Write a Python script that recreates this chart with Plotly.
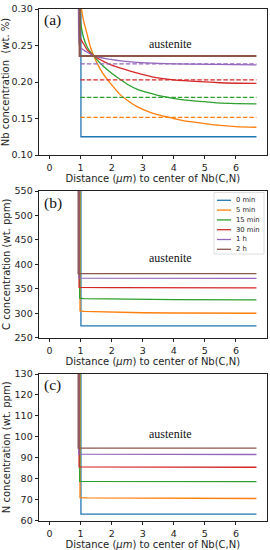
import plotly.graph_objects as go

names = ["0 min", "5 min", "15 min", "30 min", "1 h", "2 h"]
colors = ["#1f77b4", "#ff7f0e", "#2ca02c", "#d62728", "#9467bd", "#8c564b"]

# Panel (a): Nb concentration (wt. %)
nb_x = [
    [1.01, 1.01, 6.66],
    [1.0, 1.03, 1.1, 1.2, 1.3, 1.42, 1.6, 1.75, 2.0, 2.29, 2.5, 2.83, 3.2, 3.5, 4.0, 4.3, 5.0, 5.4, 6.0, 6.66],
    [0.99, 0.99, 1.05, 1.1, 1.21, 1.3, 1.42, 1.6, 1.75, 2.0, 2.29, 2.5, 2.83, 3.2, 3.6, 4.3, 5.0, 5.4, 6.0, 6.66],
    [0.97, 0.97, 1.0, 1.1, 1.21, 1.42, 1.75, 2.0, 2.29, 2.83, 3.3, 4.0, 4.83, 5.5, 6.66],
    [0.96, 0.96, 1.0, 1.2, 1.42, 1.8, 2.3, 3.0, 3.5, 4.5, 6.66],
    [0.97, 0.97, 6.66],
]
nb_y = [
    [0.50, 0.125, 0.125],
    [0.40, 0.300, 0.283, 0.267, 0.250, 0.236, 0.220, 0.2096, 0.196, 0.182, 0.175, 0.166, 0.159, 0.155, 0.150, 0.147, 0.143, 0.141, 0.139, 0.138],
    [0.50, 0.285, 0.269, 0.260, 0.248, 0.242, 0.236, 0.227, 0.221, 0.212, 0.203, 0.197, 0.190, 0.185, 0.1805, 0.1755, 0.173, 0.1715, 0.1705, 0.170],
    [0.50, 0.262, 0.259, 0.252, 0.244, 0.236, 0.228, 0.223, 0.219, 0.212, 0.207, 0.203, 0.2004, 0.199, 0.198],
    [0.50, 0.250, 0.247, 0.241, 0.236, 0.232, 0.229, 0.2265, 0.2255, 0.2245, 0.2235],
    [0.50, 0.2356, 0.2356],
]
# equilibrium (dashed) levels in panel (a), for 5 min .. 1 h
nb_eq_x = [0.99, 6.66]
nb_eq = [0.1516, 0.179, 0.203, 0.2247]

# Panel (b): C concentration (wt. ppm)
c_x = [
    [1.01, 1.01, 6.66],
    [0.98, 0.98, 1.1, 2.0, 3.0, 4.0, 5.0, 6.66],
    [0.97, 0.97, 1.1, 2.0, 3.0, 4.0, 6.66],
    [0.95, 0.95, 2.0, 4.0, 6.66],
    [0.94, 0.94, 6.66],
    [0.92, 0.92, 6.66],
]
c_y = [
    [600, 274, 274],
    [600, 305, 304, 302, 301, 300.5, 300, 300],
    [600, 331, 330, 329, 328.5, 328, 327.5],
    [600, 353, 352.5, 352, 352],
    [600, 372, 371.5],
    [600, 381, 381],
]

# Panel (c): N concentration (wt. ppm)
n_x = [
    [1.01, 1.01, 6.66],
    [0.98, 0.98, 1.2, 3.0, 6.66],
    [0.97, 0.97, 6.66],
    [0.95, 0.95, 6.66],
    [0.94, 0.94, 6.66],
    [0.92, 0.92, 6.66],
]
n_y = [
    [150, 63.1, 63.1],
    [150, 71.0, 70.9, 70.7, 70.6],
    [150, 78.8, 78.6],
    [150, 85.7, 85.5],
    [150, 91.8, 91.6],
    [150, 94.7, 94.6],
]

x_ticks = [0, 1, 2, 3, 4, 5, 6]
panel_labels = ["(a)", "(b)", "(c)"]
y_titles = ["Nb concentration  (wt. %)", "C concentration (wt. ppm)", "N concentration (wt. ppm)"]
x_title = "Distance (<i>μm</i>) to center of Nb(C,N)"
y_ranges = [[0.10, 0.30], [250, 550], [60, 130]]
y_ticks = [[0.10, 0.15, 0.20, 0.25, 0.30], [250, 300, 350, 400, 450, 500, 550], [60, 70, 80, 90, 100, 110, 120, 130]]
label_y = [0.285, 525, 124.8]
aust_y = [0.252, 412, 101.5]

W, H = 270, 550
fig = go.Figure()

panels = [(nb_x, nb_y), (c_x, c_y), (n_x, n_y)]
for p, (xs, ys) in enumerate(panels):
    ax = "" if p == 0 else str(p + 1)
    for i in range(6):
        curved = (p == 0 and 1 <= i <= 4)
        fig.add_trace(go.Scatter(
            x=xs[i], y=ys[i], mode="lines", name=names[i],
            line=dict(color=colors[i], width=2.2 if (i == 5 and p == 0) else 1.3,
                      shape="spline" if curved else "linear", smoothing=0.6 if curved else None),
            xaxis="x" + ax, yaxis="y" + ax, showlegend=False))
    if p == 0:
        for k, v in enumerate(nb_eq):
            fig.add_trace(go.Scatter(
                x=nb_eq_x, y=[v, v], mode="lines", showlegend=False,
                line=dict(color=colors[k + 1], width=1.2, dash="4.5px,2px"),
                xaxis="x", yaxis="y"))

# pixel-based layout
x_dom = [39 / W, 266.7 / W]
y_px = [(9, 155), (191, 337.7), (374, 520.7)]
axis_font = dict(family="DejaVu Sans", size=9.5, color="#222")
title_font = dict(family="DejaVu Sans", size=10, color="#222")

layout = dict(width=W, height=H, margin=dict(l=0, r=0, t=0, b=0),
              paper_bgcolor="white", plot_bgcolor="white", showlegend=False)
annotations = []
shapes = []
for p in range(3):
    ax = "" if p == 0 else str(p + 1)
    top, bot = y_px[p]
    layout["xaxis" + ax] = dict(
        domain=x_dom, range=[-0.34, 6.99], anchor="y" + ax,
        tickvals=x_ticks, ticks="outside", ticklen=3.5, tickwidth=0.8, tickcolor="#222",
        showline=True, linecolor="#222", linewidth=0.8, mirror=True,
        showgrid=False, zeroline=False, tickfont=axis_font,
        title=dict(text=x_title, font=title_font, standoff=0), automargin=False)
    fmt = ".2f" if p == 0 else "d"
    layout["yaxis" + ax] = dict(
        domain=[1 - bot / H, 1 - top / H], range=y_ranges[p], anchor="x" + ax,
        tickvals=y_ticks[p], tickformat=fmt, ticks="outside", ticklen=3.5, tickwidth=0.8, tickcolor="#222",
        showline=True, linecolor="#222", linewidth=0.8, mirror=True,
        showgrid=False, zeroline=False, tickfont=axis_font,
        title=dict(text=y_titles[p], font=title_font, standoff=2), automargin=False)
    annotations.append(dict(x=0.11, y=label_y[p], xref="x" + ax, yref="y" + ax,
                            text=panel_labels[p], showarrow=False, xanchor="center",
                            font=dict(family="Liberation Serif", size=15.5, color="#111")))
    annotations.append(dict(x=3.88, y=aust_y[p], xref="x" + ax, yref="y" + ax,
                            text="austenite", showarrow=False,
                            font=dict(family="Liberation Serif", size=12, color="#111")))

# legend box in panel (b), built from names/colors
lx0, lx1, ly0, ly1 = 214, 264, 192.5, 254
shapes.append(dict(type="rect", xref="paper", yref="paper",
                   x0=lx0 / W, x1=lx1 / W, y0=1 - ly1 / H, y1=1 - ly0 / H,
                   line=dict(color="#d5d5d5", width=0.8), fillcolor="rgba(255,255,255,0.85)"))
for i, nm in enumerate(names):
    yy = 200.3 + i * 9.8
    shapes.append(dict(type="line", xref="paper", yref="paper",
                       x0=217 / W, x1=231 / W, y0=1 - yy / H, y1=1 - yy / H,
                       line=dict(color=colors[i], width=1.3)))
    annotations.append(dict(x=234 / W, y=1 - yy / H, xref="paper", yref="paper",
                            text=nm, showarrow=False, xanchor="left", yanchor="middle",
                            font=dict(family="DejaVu Sans", size=6.8, color="#222")))

layout["annotations"] = annotations
layout["shapes"] = shapes
fig.update_layout(**layout)
fig.write_html("out.html", config={"displayModeBar": False},
               post_script="document.body.style.margin='0';document.body.style.overflow='hidden';")
